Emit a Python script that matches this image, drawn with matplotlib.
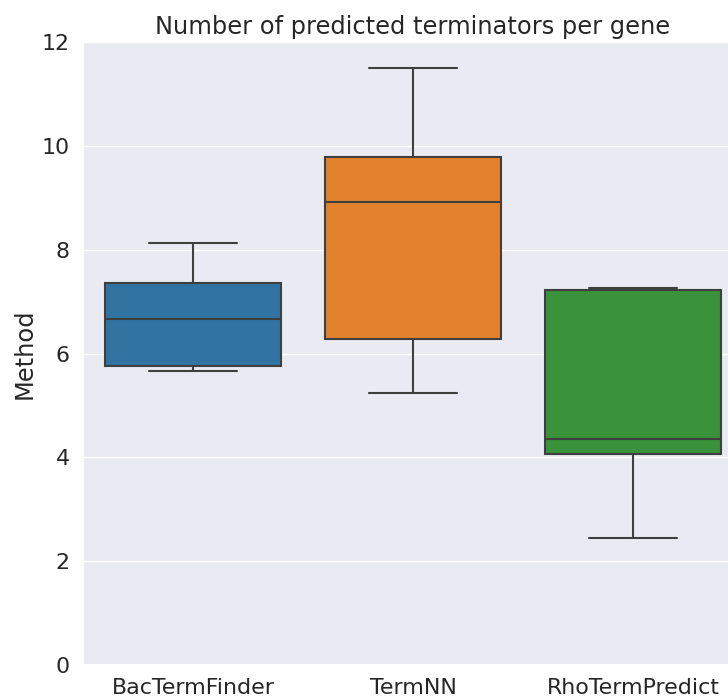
import numpy as np
import pandas as pd
import seaborn as sns
import matplotlib
matplotlib.use('Agg')
import matplotlib.pyplot as plt

# Per-method counts (five summary points each: min, Q1, median, Q3, max)
bactermfinder = [5.66, 5.76, 6.66, 7.36, 8.12]
termnn = [5.23, 6.28, 8.92, 9.78, 11.49]
rhotermpredict = [2.44, 4.06, 4.36, 7.22, 7.26]
methods = ['BacTermFinder', 'TermNN', 'RhoTermPredict']


def build_frame():
  rows = []
  for name, vals in zip(methods, [bactermfinder, termnn, rhotermpredict]):
    for v in vals:
      rows.append({'Method': name, 'Count': v})
  return pd.DataFrame(rows)


sns.set_theme(style='darkgrid', font_scale=1.45)
df = build_frame()

fig = plt.figure(figsize=(7.28, 6.98), dpi=100)
ax = fig.add_axes([83 / 728, 33 / 698, 660 / 728, 623 / 698])
sns.boxplot(data=df, x='Method', y='Count', hue='Method', order=methods,
            palette='tab10', linewidth=1.5, linecolor='#3f3f3f',
            ax=ax, legend=False)
ax.set_ylim(0, 12)
ax.set_xlim(-0.5, 2.5)
ax.set_xlabel('')
ax.set_ylabel('Method')
ax.set_title('Number of predicted terminators per gene')
fig.savefig('out.png', dpi=100)
